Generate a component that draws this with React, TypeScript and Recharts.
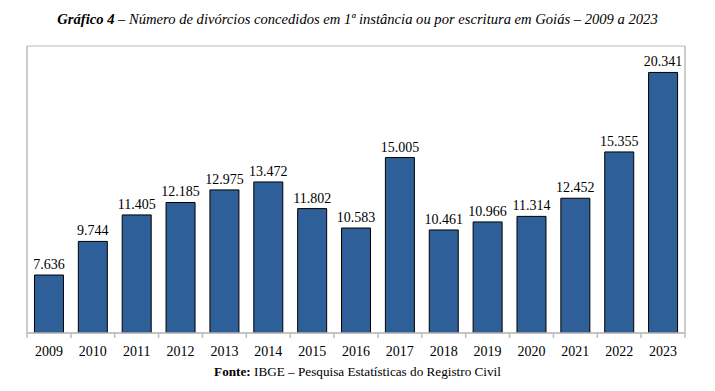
import React from "react";
import { BarChart, Bar, XAxis, YAxis, CartesianGrid, LabelList } from "recharts";

const years = ["2009", "2010", "2011", "2012", "2013", "2014", "2015", "2016", "2017", "2018", "2019", "2020", "2021", "2022", "2023"];
const divorces = [7636, 9744, 11405, 12185, 12975, 13472, 11802, 10583, 15005, 10461, 10966, 11314, 12452, 15355, 20341];
const yTicks = [4000, 6000, 8000, 10000, 12000, 14000, 16000, 18000, 20000, 22000];

const data = years.map((y, i) => ({ year: y, value: divorces[i] }));

const W = 715;
const H = 391;
const AXIS_H = 58;
const M = { top: 46, left: 26, right: 29, bottom: 0 };
const serif = "'Liberation Serif', 'Times New Roman', serif";
const gridColor = "#d0d0d0";
const borderColor = "#bcbcbc";

const fmt = (v: number) => {
  const s = String(Math.round(v));
  return s.replace(/\B(?=(\d{3})+(?!\d))/g, ".");
};

const XTick = (props: any) => {
  const { x, y, payload, index } = props;
  const half = payload && payload.offset ? payload.offset : (W - M.left - M.right - 2) / years.length / 2;
  const last = index === years.length - 1;
  return (
    <g>
      <line x1={x - half} x2={x - half} y1={y} y2={y + 5} stroke={borderColor} strokeWidth={1.5} />
      {last && <line x1={x + half} x2={x + half} y1={y} y2={y + 5} stroke={borderColor} strokeWidth={1.5} />}
      <text x={x} y={y + 23} textAnchor="middle" fontFamily={serif} fontSize={14} fill="#000">
        {payload.value}
      </text>
    </g>
  );
};

export default function App() {
  return (
    <div style={{ position: "absolute", left: 0, top: 0, width: W, height: H, background: "#fff" }}>
      <div
        style={{
          position: "absolute",
          left: 0,
          top: 9,
          width: W,
          textAlign: "center",
          fontFamily: serif,
          fontStyle: "italic",
          fontSize: 14.6,
          lineHeight: "20px",
          color: "#000",
          whiteSpace: "nowrap",
        }}
      >
        <b>Gráfico 4</b> – Número de divórcios concedidos em 1ª instância ou por escritura em Goiás – 2009 a 2023
      </div>
      <div style={{ position: "absolute", left: 0, top: 0 }}>
        <BarChart width={W} height={H} data={data} margin={M} barCategoryGap="17%">
          <CartesianGrid yAxisId="l" horizontal vertical={false} stroke={gridColor} strokeWidth={1.5} />
          <XAxis
            dataKey="year"
            axisLine={{ stroke: borderColor, strokeWidth: 1.5 }}
            tickLine={false}
            tickSize={0}
            tickMargin={0}
            interval={0}
            tick={<XTick />}
            height={AXIS_H}
          />
          <YAxis
            yAxisId="l"
            domain={[4000, 22000]}
            ticks={yTicks}
            width={1}
            tick={false}
            tickLine={false}
            axisLine={{ stroke: borderColor, strokeWidth: 1.5 }}
            allowDataOverflow
          />
          <YAxis
            yAxisId="r"
            orientation="right"
            domain={[4000, 22000]}
            ticks={yTicks}
            width={1}
            tick={false}
            tickLine={false}
            axisLine={{ stroke: borderColor, strokeWidth: 1.5 }}
          />
          <Bar yAxisId="l" dataKey="value" fill="#2E5F98" stroke="#000" strokeWidth={1} isAnimationActive={false}>
            <LabelList
              dataKey="value"
              position="top"
              offset={6}
              formatter={(v: any) => fmt(Number(v))}
              style={{ fontFamily: serif, fontSize: 14, fill: "#000" }}
            />
          </Bar>
        </BarChart>
      </div>
      <div
        style={{
          position: "absolute",
          left: 0,
          top: 364,
          width: W,
          textAlign: "center",
          fontFamily: serif,
          fontSize: 13.2,
          lineHeight: "16px",
          color: "#000",
          whiteSpace: "nowrap",
        }}
      >
        <b>Fonte:</b> IBGE – Pesquisa Estatísticas do Registro Civil
      </div>
    </div>
  );
}
